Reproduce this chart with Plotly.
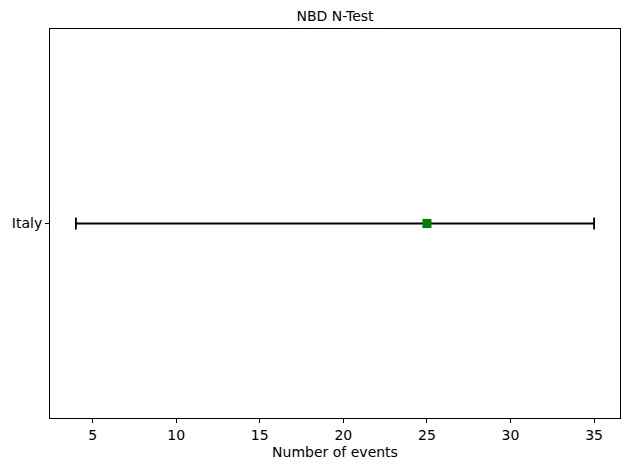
import plotly.graph_objects as go

# N-test result for one region
regions = ["Italy"]
observed = [25]
lower = [4]
upper = [35]

x_ticks = [5, 10, 15, 20, 25, 30, 35]

err_plus = [u - o for u, o in zip(upper, observed)]
err_minus = [o - l for o, l in zip(observed, lower)]

fig = go.Figure()
fig.add_trace(go.Scatter(
    x=observed,
    y=list(range(len(regions))),
    mode="markers",
    marker=dict(symbol="square", size=9, color="green"),
    error_x=dict(type="data", symmetric=False, array=err_plus, arrayminus=err_minus,
                 color="black", thickness=1.8, width=6),
    showlegend=False,
))

font = dict(family="DejaVu Sans", size=14, color="black")
axis = dict(showline=True, linecolor="black", linewidth=1, mirror=True,
            ticks="outside", ticklen=4, tickcolor="black", showgrid=False,
            zeroline=False, tickfont=font, automargin=False)

# margins allow for the 8px body margin of the html page
fig.update_layout(
    width=629, height=470,
    margin=dict(l=42, r=17, t=21, b=60),
    paper_bgcolor="white", plot_bgcolor="white",
    font=font,
    title=dict(text="NBD N-Test", x=0.5, xref="paper", y=1 - 8 / 470,
               yanchor="middle", font=dict(family="DejaVu Sans", size=14)),
    xaxis=dict(axis, range=[2.45, 36.55], tickvals=x_ticks,
               title=dict(text="Number of events", font=font, standoff=5)),
    yaxis=dict(axis, range=[-1, 1], tickvals=list(range(len(regions))),
               ticktext=regions),
)

fig.write_html("out.html")
